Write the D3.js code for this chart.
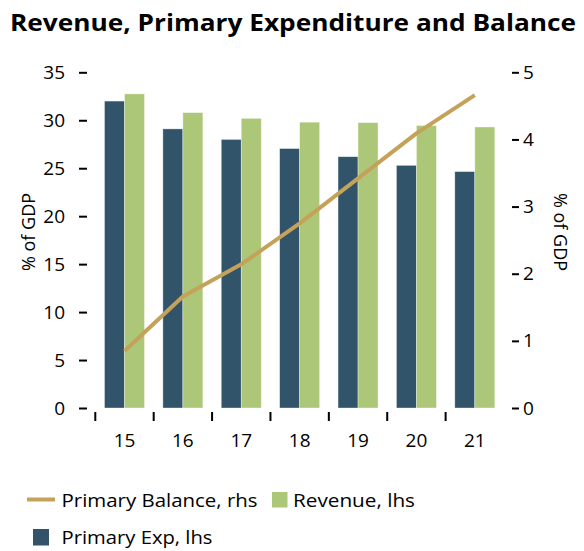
<!DOCTYPE html>
<html>
<head>
<meta charset="utf-8">
<script src="https://cdn.jsdelivr.net/npm/d3@7"></script>
<style>
  body { margin: 0; background: #fff; }
  text { font-family: "Open Sans", sans-serif; fill: #000; }
</style>
</head>
<body>
<svg width="584" height="551"></svg>
<script>
// chart data
const years = ["15", "16", "17", "18", "19", "20", "21"];
const primaryExp = [32.0, 29.1, 28.0, 27.05, 26.2, 25.3, 24.65];
const revenue = [32.75, 30.8, 30.2, 29.8, 29.75, 29.45, 29.3];
const primaryBalance = [0.85, 1.66, 2.14, 2.75, 3.42, 4.09, 4.66];
const leftTicks = [0, 5, 10, 15, 20, 25, 30, 35];
const rightTicks = [0, 1, 2, 3, 4, 5];

const colors = { exp: "#31546a", rev: "#adc778", bal: "#c4a25a" };

const svg = d3.select("svg");

// scales
const x0 = d3.scaleBand().domain(years).range([95.3, 504]).padding(0);
const x1 = d3
  .scaleBand()
  .domain(["exp", "rev"])
  .range([0, x0.bandwidth()])
  .paddingInner(0)
  .paddingOuter(0.46);
const yL = d3.scaleLinear().domain([0, 35]).range([408, 72.3]);
const yR = d3.scaleLinear().domain([0, 5]).range([408, 72.3]);

// title
svg
  .append("text")
  .attr("x", 293)
  .attr("y", 31)
  .attr("text-anchor", "middle")
  .attr("font-size", 23.5)
  .attr("font-weight", "bold")
  .attr("textLength", 566)
  .attr("lengthAdjust", "spacingAndGlyphs")
  .text("Revenue, Primary Expenditure and Balance");

// bars
const groups = svg
  .append("g")
  .selectAll("g")
  .data(years.map((y, i) => ({ year: y, exp: primaryExp[i], rev: revenue[i] })))
  .join("g")
  .attr("transform", (d) => `translate(${x0(d.year)},0)`);

groups
  .selectAll("rect")
  .data((d) => ["exp", "rev"].map((k) => ({ key: k, value: d[k] })))
  .join("rect")
  .attr("x", (d) => x1(d.key))
  .attr("width", x1.bandwidth())
  .attr("y", (d) => yL(d.value))
  .attr("height", (d) => yL(0) - yL(d.value))
  .attr("fill", (d) => colors[d.key])
  .attr("stroke", "#ffffff")
  .attr("stroke-opacity", 0.5)
  .attr("stroke-width", 0.7);

// balance line, points at group centres
const line = d3
  .line()
  .x((d, i) => x0(years[i]) + x0.bandwidth() / 2)
  .y((d) => yR(d));

svg
  .append("path")
  .datum(primaryBalance)
  .attr("fill", "none")
  .attr("stroke", colors.bal)
  .attr("stroke-width", 4)
  .attr("stroke-linejoin", "round")
  .attr("d", line);

// left axis
const leftAxis = svg
  .append("g")
  .attr("transform", "translate(87,0)")
  .call(d3.axisLeft(yL).tickValues(leftTicks).tickSize(8).tickPadding(14));
leftAxis.select(".domain").remove();
leftAxis.selectAll("line").attr("stroke", "#000").attr("stroke-width", 2);
leftAxis.selectAll("text").attr("font-size", 19).attr("font-family", "Open Sans, sans-serif");

// right axis
const rightAxis = svg
  .append("g")
  .attr("transform", "translate(512,0)")
  .call(
    d3.axisRight(yR).tickValues(rightTicks).tickFormat(d3.format("d")).tickSize(7).tickPadding(4)
  );
rightAxis.select(".domain").remove();
rightAxis.selectAll("line").attr("stroke", "#000").attr("stroke-width", 2);
rightAxis.selectAll("text").attr("font-size", 19).attr("font-family", "Open Sans, sans-serif");

// x axis: ticks between categories, labels centred
const xAxis = svg.append("g");
xAxis
  .selectAll("line")
  .data(years)
  .join("line")
  .attr("x1", (d) => x0(d))
  .attr("x2", (d) => x0(d))
  .attr("y1", 412)
  .attr("y2", 421)
  .attr("stroke", "#000")
  .attr("stroke-width", 2);
xAxis
  .selectAll("text")
  .data(years)
  .join("text")
  .attr("x", (d) => x0(d) + x0.bandwidth() / 2)
  .attr("y", 447)
  .attr("text-anchor", "middle")
  .attr("font-size", 19)
  .text((d) => d);

// axis titles
svg
  .append("text")
  .attr("transform", "translate(35,232) rotate(-90)")
  .attr("text-anchor", "middle")
  .attr("font-size", 18)
  .text("% of GDP");
svg
  .append("text")
  .attr("transform", "translate(554,232) rotate(90)")
  .attr("text-anchor", "middle")
  .attr("font-size", 18)
  .text("% of GDP");

// legend
const legend = svg.append("g");
legend
  .append("line")
  .attr("x1", 27)
  .attr("x2", 55)
  .attr("y1", 499.5)
  .attr("y2", 499.5)
  .attr("stroke", colors.bal)
  .attr("stroke-width", 4);
legend
  .append("text")
  .attr("x", 61.5)
  .attr("y", 506.5)
  .attr("font-size", 19)
  .attr("textLength", 196)
  .attr("lengthAdjust", "spacingAndGlyphs")
  .text("Primary Balance, rhs");
legend
  .append("rect")
  .attr("x", 272)
  .attr("y", 492)
  .attr("width", 15.5)
  .attr("height", 15.5)
  .attr("fill", colors.rev);
legend
  .append("text")
  .attr("x", 293)
  .attr("y", 506.5)
  .attr("font-size", 19)
  .attr("textLength", 122)
  .attr("lengthAdjust", "spacingAndGlyphs")
  .text("Revenue, lhs");
legend
  .append("rect")
  .attr("x", 33)
  .attr("y", 529)
  .attr("width", 16)
  .attr("height", 16.5)
  .attr("fill", colors.exp);
legend
  .append("text")
  .attr("x", 61.5)
  .attr("y", 544)
  .attr("font-size", 19)
  .attr("textLength", 151)
  .attr("lengthAdjust", "spacingAndGlyphs")
  .text("Primary Exp, lhs");
</script>
</body>
</html>
